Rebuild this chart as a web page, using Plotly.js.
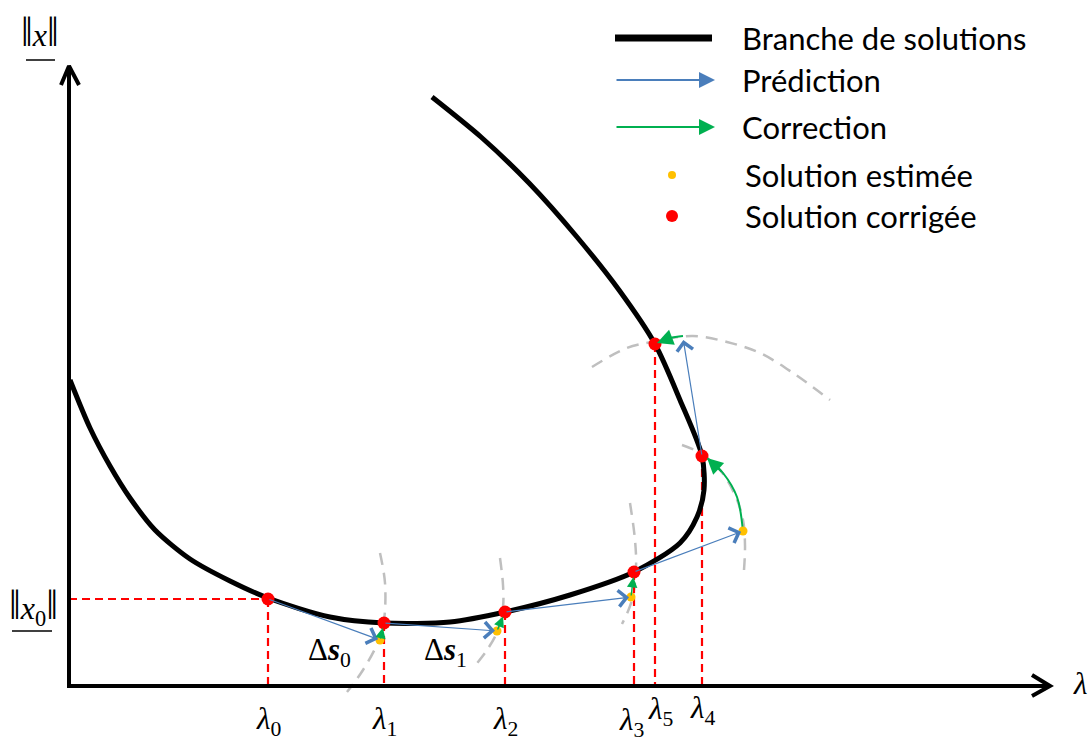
<!DOCTYPE html>
<html>
<head>
<meta charset="utf-8">
<script src="https://cdn.plot.ly/plotly-3.0.1.min.js"></script>
<style>html,body{margin:0;padding:0;background:#fff;}#chart{width:1091px;height:743px;}</style>
</head>
<body>
<div id="chart"></div>
<script>
// ---- data (λ, ||x||) in diagram units, origin at axis corner ----
const branchLam  = [1,21,41,61,86,121,161,199,261,315,381,436,501,565,611,628,635,633,611,586,550,508,460,412,363];
const branchNorm = [306,258,220,188,156,127,105,88,69,63,64,74,91,114,143,169,196,230,286,342,396,449,503,549,589];

const corrLam  = [199,315,436,565,633,586];   // solutions corrigées λ0..λ5
const corrNorm = [87,63,74,114,230,342];
const estLam   = [311,428,562,674];            // solutions estimées
const estNorm  = [46,55,89,155];

const predEndLam  = [311,428,562,674,614];     // tips of prediction arrows
const predEndNorm = [46,55,89,155,348];

const corrArc1Lam  = [674,668,654,638];
const corrArc1Norm = [154,189,213,228];
const corrArc2Lam  = [614,601,588];
const corrArc2Norm = [350,348,343];

const arcLam = [
  [311,316,315,309,294,278],
  [431,434,434,429,418,404],
  [561,566,567,563,553],
  [613,631,651,666,674,676,675],
  [523,558,588,624,658,691,724,761]
];
const arcNorm = [
  [133,103,66,44,16,-6],
  [128,101,79,56,36,18],
  [183,146,119,86,62],
  [241,233,216,191,166,141,116],
  [319,338,345,350,344,333,313,286]
];

const xAxisLam = [-2,981];  const xAxisNorm = [0,0];
const xHeadLam = [963,981,963]; const xHeadNorm = [11,0,-10];
const yAxisLam = [0,0];     const yAxisNorm = [-2,620];
const yHeadLam = [-8,0,10]; const yHeadNorm = [601,620,601];

const lamLabels = ['0','1','2','3','4','5'];
const deltaLabels = ['0','1'];
const deltaLam = [260,376]; const deltaNorm = [34,34];

const legendLabels = ['Branche de solutions','Prédiction','Correction','Solution estimée','Solution corrigée'];
const legendNorm = [648,606,559,511,470];

// ---- colours ----
const BLUE='#4A7EBB', GREEN='#00B050', ORANGE='#FFC000', RED='#FF0000', GRAY='#BFBFBF';
const SERIF='Liberation Serif';
const SANS='Lato';

const traces = [];
arcLam.forEach((a,i)=>traces.push({x:a,y:arcNorm[i],mode:'lines',line:{color:GRAY,width:2.5,dash:'12px,8px',shape:'spline'},hoverinfo:'skip'}));
traces.push({x:[0,corrLam[0]],y:[corrNorm[0],corrNorm[0]],mode:'lines',line:{color:RED,width:2,dash:'8px,5px'},hoverinfo:'skip'});
corrLam.forEach((l,i)=>traces.push({x:[l,l],y:[corrNorm[i],0],mode:'lines',line:{color:RED,width:2.2,dash:'8px,5px'},hoverinfo:'skip'}));
traces.push({x:xAxisLam,y:xAxisNorm,mode:'lines',line:{color:'#000',width:4},hoverinfo:'skip'});
traces.push({x:xHeadLam,y:xHeadNorm,mode:'lines',line:{color:'#000',width:4},hoverinfo:'skip'});
traces.push({x:yAxisLam,y:yAxisNorm,mode:'lines',line:{color:'#000',width:4},hoverinfo:'skip'});
traces.push({x:yHeadLam,y:yHeadNorm,mode:'lines',line:{color:'#000',width:4},hoverinfo:'skip'});
traces.push({x:branchLam,y:branchNorm,mode:'lines',line:{color:'#000',width:5,shape:'spline',smoothing:0.8},hoverinfo:'skip'});
traces.push({x:corrArc1Lam,y:corrArc1Norm,mode:'lines',line:{color:GREEN,width:2,shape:'spline'},hoverinfo:'skip'});
traces.push({x:corrArc2Lam,y:corrArc2Norm,mode:'lines',line:{color:GREEN,width:2,shape:'spline'},hoverinfo:'skip'});
traces.push({x:estLam,y:estNorm,mode:'markers',marker:{color:ORANGE,size:9},hoverinfo:'skip'});
traces.push({x:corrLam,y:corrNorm,mode:'markers',marker:{color:RED,size:13},hoverinfo:'skip'});
traces.push({x:[546,643],y:[legendNorm[0],legendNorm[0]],mode:'lines',line:{color:'#000',width:7},hoverinfo:'skip'});
traces.push({x:[603],y:[legendNorm[3]],mode:'markers',marker:{color:ORANGE,size:8},hoverinfo:'skip'});
traces.push({x:[603],y:[legendNorm[4]],mode:'markers',marker:{color:RED,size:12},hoverinfo:'skip'});

const ann = [];
function arrow(x0,y0,x1,y1,color,head,w,size,standoff){
  ann.push({x:x1,y:y1,ax:x0,ay:y0,xref:'x',yref:'y',axref:'x',ayref:'y',text:'',showarrow:true,
    arrowhead:head,arrowwidth:w,arrowsize:size,arrowcolor:color,standoff:standoff||0});
}
for(let i=0;i<predEndLam.length;i++) arrow(corrLam[i],corrNorm[i],predEndLam[i],predEndNorm[i],BLUE,4,1.2,2.6,2);
for(let i=0;i<3;i++) arrow(estLam[i],estNorm[i],corrLam[i+1],corrNorm[i+1],GREEN,2,1.4,1.5,5);
arrow(corrArc1Lam[2],corrArc1Norm[2],corrArc1Lam[3],corrArc1Norm[3],GREEN,2,2,1.6,0);
arrow(corrArc2Lam[1],corrArc2Norm[1],corrArc2Lam[2],corrArc2Norm[2],GREEN,2,2,1.6,0);
arrow(546,legendNorm[1],646,legendNorm[1],BLUE,2,2,1.6,0);
arrow(546,legendNorm[2],646,legendNorm[2],GREEN,2,2,1.6,0);

function txt(x,y,t,size,family,anchor,xshift){
  ann.push({x:x,y:y,xref:'x',yref:'y',text:t,showarrow:false,xanchor:anchor||'center',yanchor:'middle',
    xshift:xshift||0,font:{size:size,family:family,color:'#000'}});
}
const lamLabelY = [-35,-35,-35,-36,-24,-25];
const lamLabelShift = [0,0,0,-3,0,5];
lamLabels.forEach((s,i)=>txt(corrLam[i],lamLabelY[i],'<i>λ</i><sub>'+s+'</sub>',31,SERIF,'center',lamLabelShift[i]));
deltaLabels.forEach((s,i)=>txt(deltaLam[i],deltaNorm[i],'Δ<i><b>s</b></i><sub>'+s+'</sub>',31,SERIF));
const BAR='<span style="font-size:42px">‖</span>';
txt(-29,654,BAR+'<i>x</i>'+BAR,32,SERIF);
txt(-36,80,BAR+'<i>x</i><sub>0</sub>'+BAR,32,SERIF);
txt(1011,3,'<i>λ</i>',31,SERIF);
legendLabels.forEach((s,i)=>txt(i<3?671:674,legendNorm[i],s,31,SANS,'left'));

const shapes = [
  {type:'line',xref:'x',yref:'y',x0:-43,x1:-14,y0:626,y1:626,line:{color:'#000',width:1.5}},
  {type:'line',xref:'x',yref:'y',x0:-57,x1:-17,y0:55,y1:55,line:{color:'#000',width:1.5}}
];

const layout = {
  width:1091,height:743,margin:{l:0,r:0,t:0,b:0},
  paper_bgcolor:'#fff',plot_bgcolor:'#fff',showlegend:false,
  xaxis:{range:[-69,1022],visible:false,fixedrange:true},
  yaxis:{range:[-57,686],visible:false,fixedrange:true},
  annotations:ann,shapes:shapes
};
Plotly.newPlot('chart',traces,layout,{staticPlot:true,displayModeBar:false});
</script>
</body>
</html>
